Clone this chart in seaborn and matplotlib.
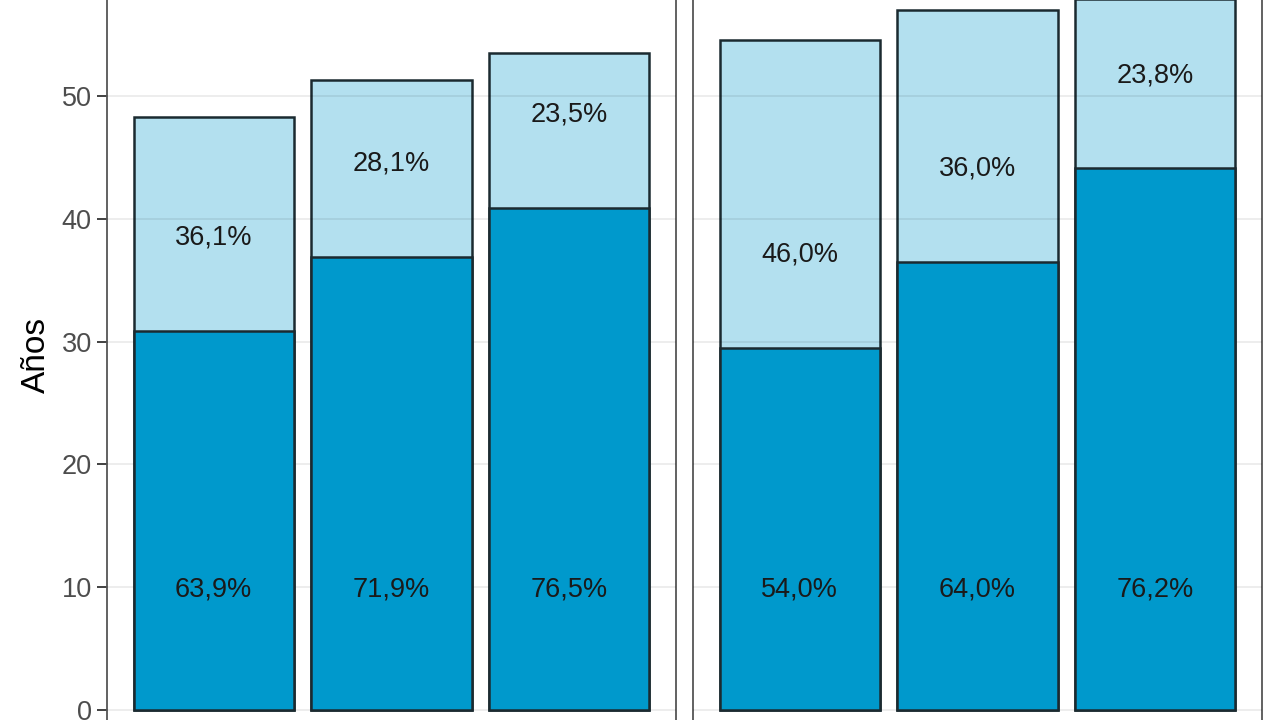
import matplotlib
matplotlib.use("Agg")
import matplotlib.pyplot as plt
import seaborn as sns
import pandas as pd

# ---- data ----
categories = ["G1", "G2", "G3"]
panels = ["Panel A", "Panel B"]
total_left = [48.3, 51.3, 53.5]
lower_left = [30.9, 36.9, 40.9]
pct_lower_left = ["63,9%", "71,9%", "76,5%"]
pct_upper_left = ["36,1%", "28,1%", "23,5%"]
total_right = [54.6, 57.0, 57.9]
lower_right = [29.5, 36.5, 44.1]
pct_lower_right = ["54,0%", "64,0%", "76,2%"]
pct_upper_right = ["46,0%", "36,0%", "23,8%"]
y_ticks = [0, 10, 20, 30, 40, 50]
y_label = "Años"

sns.set_theme(style="white")
plt.rcParams["font.family"] = ["Liberation Sans", "DejaVu Sans"]

DARK = "#0099CC"
LIGHT = "#B3E0EF"
EDGE = "#1B2A30"
W, H = 1280, 720
fig = plt.figure(figsize=(12.8, 7.2), dpi=100)

ppu = 12.28        # pixels per data unit
y0_px = 10         # pixel (from bottom) of y = 0
ylo, yhi = -2.9, 60.8

def add_panel(x_left_px, width_px):
    bottom = (y0_px + ylo * ppu) / H
    height = (yhi - ylo) * ppu / H
    return fig.add_axes([x_left_px / W, bottom, width_px / W, height])

data = [
    (total_left, lower_left, pct_lower_left, pct_upper_left, 107),
    (total_right, lower_right, pct_lower_right, pct_upper_right, 693),
]

for i, (tot, low, pl, pu, xpx) in enumerate(data):
    ax = add_panel(xpx, 569)
    df = pd.DataFrame({"cat": categories, "total": tot, "lower": low})
    sns.barplot(data=df, x="cat", y="total", color=LIGHT, saturation=1,
                width=0.9, edgecolor=EDGE, linewidth=1.8, ax=ax, zorder=2)
    sns.barplot(data=df, x="cat", y="lower", color=DARK, saturation=1,
                width=0.9, edgecolor=EDGE, linewidth=1.8, ax=ax, zorder=4)
    for j in range(len(categories)):
        ax.text(j, 9.8, pl[j], ha="center", va="center", fontsize=19.5,
                color="#1a1a1a", zorder=6)
        ax.text(j, low[j] + 7.6, pu[j], ha="center", va="center", fontsize=19.5,
                color="#1a1a1a", zorder=6)
    ax.set_xlim(-0.6, 2.6)
    ax.set_ylim(ylo, yhi)
    ax.set_yticks(y_ticks)
    for yt in y_ticks:
        ax.axhline(yt, color="#000000", alpha=0.08, lw=1.3, zorder=3)
    ax.set_xlabel("")
    ax.set_xticks([])
    for s in ax.spines.values():
        s.set_color("#555555")
        s.set_linewidth(1.3)
        s.set_visible(True)
    if i == 0:
        ax.set_ylabel(y_label, fontsize=24, color="#000000", labelpad=7)
        ax.tick_params(axis="y", left=True, length=7, width=1.3,
                       color="#333333", labelsize=19.5, labelcolor="#4D4D4D", pad=4)
    else:
        ax.set_ylabel("")
        ax.tick_params(axis="y", left=False, labelleft=False)

fig.savefig("out.png", dpi=100)
